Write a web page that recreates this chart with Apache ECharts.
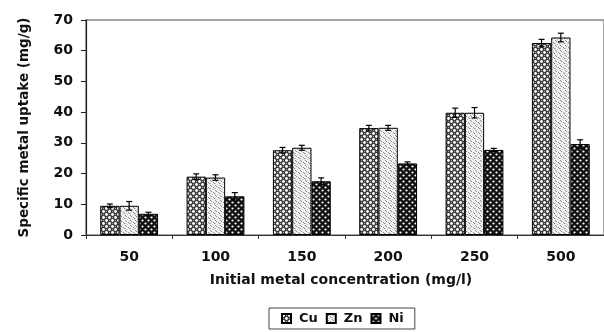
<!DOCTYPE html>
<html>
<head>
<meta charset="utf-8">
<script src="https://cdn.jsdelivr.net/npm/echarts@6/dist/echarts.min.js"></script>
<style>
html,body{margin:0;padding:0;background:#fff;}
#chart{width:604px;height:332px;}
</style>
</head>
<body>
<div id="chart"></div>
<script>
// ---- data ----
var categories = ['50', '100', '150', '200', '250', '500'];
var seriesNames = ['Cu', 'Zn', 'Ni'];
var cuValues = [9.5, 19.0, 27.6, 34.8, 39.8, 62.5];
var znValues = [9.5, 18.7, 28.4, 34.9, 39.8, 64.3];
var niValues = [6.9, 12.6, 17.5, 23.3, 27.7, 29.6];
var cuErrors = [0.6, 0.9, 0.9, 0.9, 1.5, 1.2];
var znErrors = [1.4, 0.9, 0.8, 0.8, 1.7, 1.4];
var niErrors = [0.5, 1.2, 1.1, 0.5, 0.5, 1.4];
var yTicks = [0, 10, 20, 30, 40, 50, 60, 70];

var FONT = '"DejaVu Sans", sans-serif';

// ---- pattern fills ----
function makePattern(kind) {
  var c = document.createElement('canvas');
  var ctx = c.getContext('2d');
  if (kind === 'Cu') {
    c.width = 6; c.height = 6;
    ctx.fillStyle = '#3a3a3a'; ctx.fillRect(0, 0, 6, 6);
    ctx.fillStyle = '#fff';
    ctx.beginPath(); ctx.arc(1.5, 1.5, 1.4, 0, Math.PI * 2); ctx.fill();
    ctx.beginPath(); ctx.arc(4.5, 4.5, 1.4, 0, Math.PI * 2); ctx.fill();
    ctx.fillStyle = '#aaa';
    ctx.fillRect(4, 1, 1, 1); ctx.fillRect(1, 4, 1, 1);
  } else if (kind === 'Zn') {
    c.width = 5; c.height = 5;
    ctx.fillStyle = '#f2f2f2'; ctx.fillRect(0, 0, 5, 5);
    ctx.fillStyle = '#8a8a8a';
    ctx.fillRect(0, 0, 1, 1); ctx.fillRect(1, 1, 1, 1);
    ctx.fillRect(3, 2, 1, 1); ctx.fillRect(4, 3, 1, 1);
    ctx.fillStyle = '#c8c8c8';
    ctx.fillRect(2, 4, 1, 1); ctx.fillRect(0, 3, 1, 1);
  } else {
    c.width = 6; c.height = 6;
    ctx.fillStyle = '#111'; ctx.fillRect(0, 0, 6, 6);
    ctx.fillStyle = '#fff';
    ctx.beginPath(); ctx.arc(1.5, 1.5, 1.1, 0, Math.PI * 2); ctx.fill();
    ctx.beginPath(); ctx.arc(4.5, 4.5, 1.1, 0, Math.PI * 2); ctx.fill();
  }
  return { image: c, repeat: 'repeat' };
}

var valuesList = [cuValues, znValues, niValues];
var errorsList = [cuErrors, znErrors, niErrors];
var GAP = 0.33;

var series = [];
seriesNames.forEach(function (name, k) {
  series.push({
    name: name,
    type: 'bar',
    data: valuesList[k],
    barGap: '0%',
    barCategoryGap: '33%',
    itemStyle: { color: makePattern(name), borderColor: '#000', borderWidth: 1 },
    emphasis: { disabled: true },
    z: 2
  });
});
seriesNames.forEach(function (name, k) {
  var d = valuesList[k].map(function (v, i) { return [i, v, errorsList[k][i]]; });
  series.push({
    type: 'custom',
    name: name + ' err',
    z: 5,
    silent: true,
    encode: { x: 0, y: 1 },
    data: d,
    renderItem: function (params, api) {
      var idx = api.value(0), v = api.value(1), e = api.value(2);
      var catW = api.size([1, 0])[0];
      var bw = catW * (1 - GAP) / 3;
      var base = api.coord([idx, v]);
      var x = base[0] + (k - 1) * bw;
      var top = api.coord([idx, v + e])[1];
      var bot = api.coord([idx, v - e])[1];
      var cap = 3;
      var st = { stroke: '#000', lineWidth: 1.2 };
      return {
        type: 'group',
        children: [
          { type: 'line', shape: { x1: x, y1: top, x2: x, y2: bot }, style: st },
          { type: 'line', shape: { x1: x - cap, y1: top, x2: x + cap, y2: top }, style: st },
          { type: 'line', shape: { x1: x - cap, y1: bot, x2: x + cap, y2: bot }, style: st }
        ]
      };
    }
  });
});

var chart = echarts.init(document.getElementById('chart'), null, { renderer: 'canvas' });
chart.setOption({
  animation: false,
  backgroundColor: '#fff',
  textStyle: { fontFamily: FONT },
  grid: {
    left: 86, top: 20, width: 528, height: 215,
    show: true, borderColor: '#888', borderWidth: 1.5, backgroundColor: 'transparent'
  },
  legend: {
    data: seriesNames,
    left: 269, top: 308,
    orient: 'horizontal',
    icon: 'rect',
    itemWidth: 9, itemHeight: 9, itemGap: 8,
    padding: [4, 11, 4, 12],
    borderColor: '#444', borderWidth: 1,
    textStyle: { fontFamily: FONT, fontSize: 13, fontWeight: 'bold', color: '#111', padding: [0, 0, 0, 3] }
  },
  xAxis: {
    type: 'category',
    data: categories,
    name: 'Initial metal concentration (mg/l)',
    nameLocation: 'middle',
    nameGap: 38,
    nameTextStyle: { fontFamily: FONT, fontSize: 14, fontWeight: 'bold', color: '#111', padding: [0, 8, 0, 0] },
    axisLine: { lineStyle: { color: '#333', width: 1.2 } },
    axisTick: { show: true, length: 4, lineStyle: { color: '#333' } },
    axisLabel: { fontFamily: FONT, fontSize: 14, fontWeight: 'bold', color: '#111', margin: 15 }
  },
  yAxis: {
    type: 'value',
    min: yTicks[0], max: yTicks[yTicks.length - 1], interval: 10,
    name: 'Specific metal uptake (mg/g)',
    nameLocation: 'middle',
    nameGap: 55,
    nameTextStyle: { fontFamily: FONT, fontSize: 13.5, fontWeight: 'bold', color: '#111' },
    axisLine: { show: true, lineStyle: { color: '#222', width: 1.2 } },
    axisTick: { show: true, length: 5, lineStyle: { color: '#222' } },
    splitLine: { show: false },
    axisLabel: { fontFamily: FONT, fontSize: 14, fontWeight: 'bold', color: '#111', margin: 13 }
  },
  series: series
});
</script>
</body>
</html>
